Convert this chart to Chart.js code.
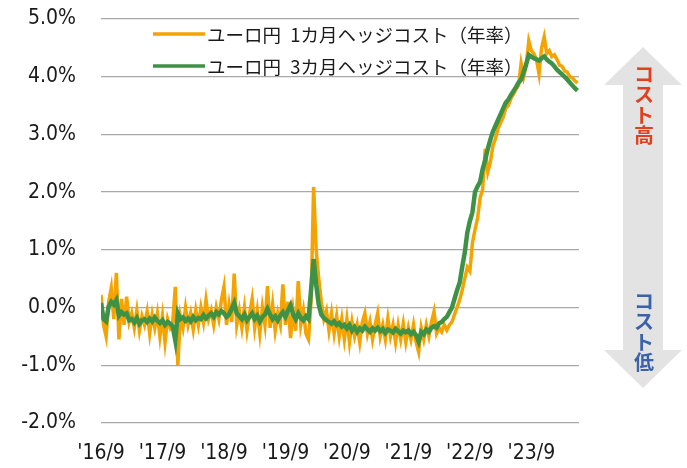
<!DOCTYPE html>
<html>
<head>
<meta charset="utf-8">
<script src="https://cdn.jsdelivr.net/npm/chart.js"></script>
<style>
  html,body{margin:0;padding:0;background:#fff}
  #wrap{width:687px;height:468px;position:relative}
</style>
</head>
<body>
<div id="wrap"><canvas id="hedgeChart"></canvas></div>
<script>
// x tick labels, one per September ('16/9 = month 0)
const xTickLabels = ["'16/9","'17/9","'18/9","'19/9","'20/9","'21/9","'22/9","'23/9"];
const yTicks = [-2,-1,0,1,2,3,4,5];
const seriesNames = ["ユーロ円 1カ月ヘッジコスト（年率）","ユーロ円 3カ月ヘッジコスト（年率）"];
const arrowTop = "コスト高", arrowBottom = "コスト低";

// half-monthly readings from 2016/9 to 2024/6 (%)
const hedge1m = [
  0.22,-0.3,-0.5,0.1,0.34,-0.2,0.6,-0.55,0.15,-0.3,0.19,-0.25,-0.1,-0.35,-0.05,-0.4,-0.15,-0.3,-0.07,-0.45,-0.12,-0.35,-0.1,-0.5,
  -0.15,-0.6,-0.2,-0.35,-0.25,0.36,-1.0,-0.15,-0.35,0.0,-0.3,-0.1,-0.38,-0.05,-0.3,0.0,-0.25,0.13,-0.2,-0.05,-0.3,0.0,-0.2,0.13,
  0.36,-0.3,0.05,-0.25,0.59,-0.3,-0.05,-0.35,0.0,-0.4,-0.1,0.15,-0.35,-0.05,-0.45,0.0,-0.3,0.37,-0.35,0.05,-0.4,-0.1,-0.3,0.4,
  -0.3,0.1,-0.53,-0.05,-0.4,0.46,-0.3,-0.05,-0.45,-0.55,0.1,2.09,1.0,0.5,0.1,-0.2,-0.05,-0.4,-0.1,-0.45,-0.15,-0.5,-0.2,-0.55,
  -0.2,-0.6,-0.25,-0.5,-0.3,-0.6,-0.25,-0.1,-0.45,-0.25,-0.55,-0.3,-0.1,-0.5,-0.3,-0.55,-0.19,-0.5,-0.3,-0.6,-0.3,-0.55,-0.28,-0.6,
  -0.35,-0.55,-0.3,-0.6,-0.77,-0.35,-0.55,-0.3,-0.5,-0.25,-0.07,-0.45,-0.35,-0.42,-0.3,-0.39,-0.3,-0.25,-0.12,0.0,0.13,0.3,0.5,0.7,
  0.63,1.12,1.35,1.55,1.9,2.05,2.75,2.35,2.52,2.8,2.93,3.1,3.2,3.3,3.45,3.5,3.62,3.7,3.78,3.85,4.23,4.0,4.2,4.62,
  4.45,4.4,4.3,4.05,4.5,4.69,4.4,4.45,4.35,4.38,4.3,4.2,4.18,4.1,4.08,4.0,3.98,3.93,3.89
];
const hedge3m = [
  0.08,-0.2,-0.24,0.02,0.1,0.05,0.13,-0.14,-0.08,-0.12,-0.1,-0.22,-0.2,-0.26,-0.18,-0.28,-0.22,-0.2,-0.25,-0.19,-0.24,-0.17,-0.23,-0.27,
  -0.22,-0.3,-0.25,-0.28,-0.33,-0.57,-0.1,-0.2,-0.17,-0.23,-0.19,-0.24,-0.16,-0.22,-0.18,-0.2,-0.13,-0.19,-0.14,-0.1,-0.16,-0.08,-0.12,-0.06,
  -0.1,-0.16,-0.12,-0.02,0.08,-0.1,-0.15,-0.2,-0.12,-0.22,-0.16,-0.1,-0.2,-0.14,-0.24,-0.16,-0.12,-0.02,-0.12,-0.2,-0.15,-0.22,-0.14,-0.08,
  -0.16,-0.05,0.04,-0.12,-0.2,-0.1,-0.18,-0.22,-0.15,-0.2,0.3,0.84,0.4,0.05,-0.12,-0.18,-0.22,-0.25,-0.28,-0.24,-0.3,-0.27,-0.33,-0.3,
  -0.36,-0.3,-0.4,-0.34,-0.42,-0.36,-0.4,-0.33,-0.38,-0.42,-0.36,-0.4,-0.35,-0.41,-0.37,-0.44,-0.38,-0.4,-0.43,-0.37,-0.41,-0.45,-0.4,-0.43,
  -0.4,-0.46,-0.42,-0.48,-0.59,-0.42,-0.46,-0.38,-0.42,-0.35,-0.32,-0.35,-0.27,-0.25,-0.2,-0.16,-0.08,0.0,0.15,0.3,0.43,0.7,0.95,1.3,
  1.5,1.65,2.0,2.1,2.18,2.4,2.56,2.75,2.91,3.05,3.15,3.25,3.35,3.45,3.55,3.6,3.68,3.75,3.82,3.9,3.95,4.08,4.22,4.38,
  4.35,4.32,4.3,4.28,4.32,4.35,4.3,4.26,4.23,4.18,4.12,4.08,4.04,4.0,3.95,3.9,3.85,3.8,3.76
];
// months since 2016/9 for each reading
const monthIdx = hedge1m.map((_, i) => i / 2);

const ORANGE = "#f5a300", GREEN = "#3e9246";
const TICK_FONT = {family:"'DejaVu Sans Condensed','DejaVu Sans',sans-serif", size:21};
const JP_FONT = "'Noto Sans CJK JP','Noto Sans',sans-serif";

const legendPlugin = {
  id: "insideLegend",
  afterDraw(chart){
    const ctx = chart.ctx;
    ctx.save();
    chart.data.datasets.forEach((ds, k) => {
      const y = 34 + k * 32;
      ctx.strokeStyle = ds.borderColor;
      ctx.lineWidth = 3.5;
      ctx.beginPath(); ctx.moveTo(153, y); ctx.lineTo(205, y); ctx.stroke();
      ctx.fillStyle = "#1a1a1a";
      ctx.font = "18.5px " + JP_FONT;
      ctx.textBaseline = "middle";
      ctx.textAlign = "left";
      ctx.fillText(ds.label.replace(" ", "\u2002"), 207, y + 1);
    });
    ctx.restore();
  }
};

const arrowPlugin = {
  id: "costArrow",
  afterDraw(chart){
    const ctx = chart.ctx, cx = 643;
    ctx.save();
    ctx.fillStyle = "#e3e3e3";
    ctx.beginPath();
    ctx.moveTo(cx, 47);
    ctx.lineTo(cx + 39, 85); ctx.lineTo(cx + 20, 85);
    ctx.lineTo(cx + 20, 350); ctx.lineTo(cx + 39, 350);
    ctx.lineTo(cx, 388);
    ctx.lineTo(cx - 39, 350); ctx.lineTo(cx - 20, 350);
    ctx.lineTo(cx - 20, 85); ctx.lineTo(cx - 39, 85);
    ctx.closePath(); ctx.fill();
    ctx.font = "bold 20px " + JP_FONT;
    ctx.textAlign = "center"; ctx.textBaseline = "middle";
    ctx.fillStyle = "#e0401e";
    [...arrowTop].forEach((ch, i) => ctx.fillText(ch, cx + 1, 74 + i * 20.5));
    ctx.fillStyle = "#3a62ab";
    [...arrowBottom].forEach((ch, i) => ctx.fillText(ch, cx + 1, 301 + i * 20.5));
    ctx.restore();
  }
};

new Chart(document.getElementById("hedgeChart"), {
  type: "line",
  data: {
    datasets: [
      {label: seriesNames[0], data: hedge1m.map((v, i) => ({x: monthIdx[i], y: v})),
       borderColor: ORANGE, borderWidth: 3.5, pointRadius: 0, tension: 0, order: 2},
      {label: seriesNames[1], data: hedge3m.map((v, i) => ({x: monthIdx[i], y: v})),
       borderColor: GREEN, borderWidth: 4.5, pointRadius: 0, tension: 0, order: 1}
    ]
  },
  options: {
    responsive: true,
    maintainAspectRatio: false,
    animation: false,
    layout: {padding: {left: 0, right: 108, top: 19, bottom: 0}},
    plugins: {legend: {display: false}, tooltip: {enabled: false}},
    scales: {
      x: {
        type: "linear", min: 0, max: 93.3,
        grid: {display: false, drawTicks: false},
        border: {display: false},
        afterBuildTicks: s => { s.ticks = xTickLabels.map((_, k) => ({value: k * 12})); },
        afterFit: s => { s.height = 45; },
        ticks: {autoSkip: false, maxRotation: 0, padding: 18, color: "#1a1a1a", font: TICK_FONT,
                callback: (v, i) => xTickLabels[i]}
      },
      y: {
        min: yTicks[0], max: yTicks[yTicks.length - 1],
        grid: {color: "#a8a8a8", lineWidth: 1.3, drawTicks: false},
        border: {display: false},
        afterBuildTicks: s => { s.ticks = yTicks.map(v => ({value: v})); },
        afterFit: s => { s.width = 101; s.paddingTop = 12; s.paddingBottom = 12; },
        ticks: {padding: 25, color: "#1a1a1a", font: TICK_FONT, callback: v => v.toFixed(1) + "%"}
      }
    }
  },
  plugins: [legendPlugin, arrowPlugin]
});
</script>
</body>
</html>
